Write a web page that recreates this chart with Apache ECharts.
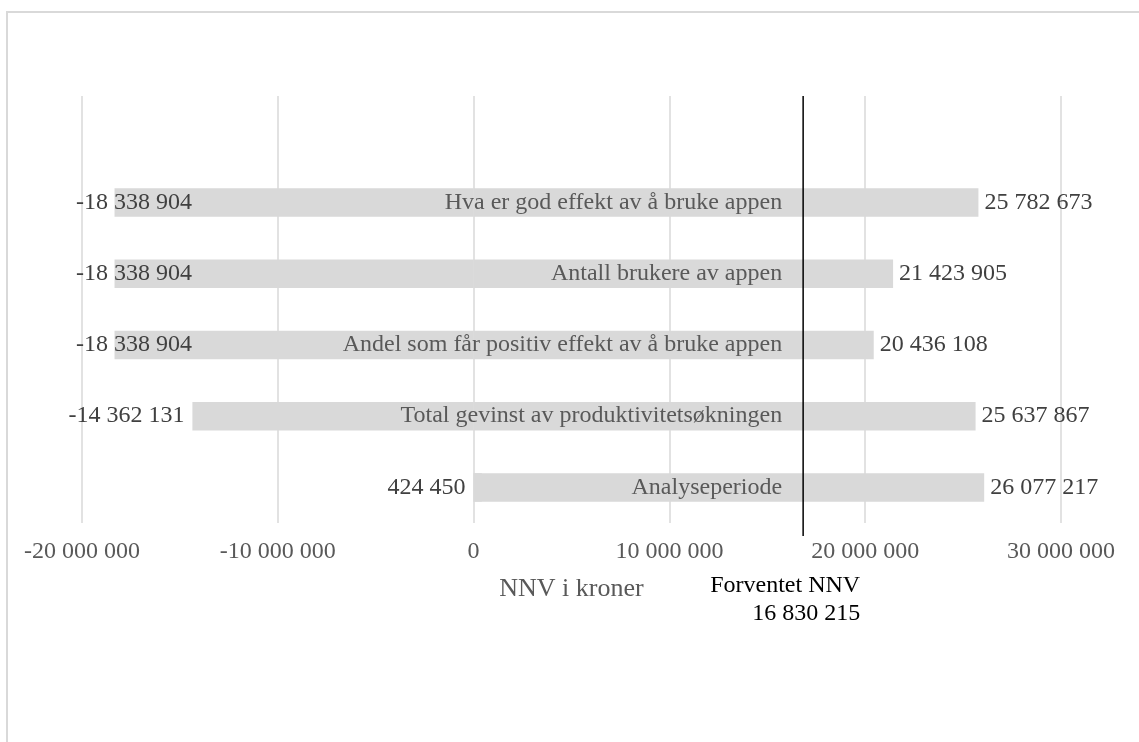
<!DOCTYPE html>
<html>
<head>
<meta charset="utf-8">
<script src="https://cdn.jsdelivr.net/npm/echarts@6/dist/echarts.min.js"></script>
<style>
  html, body { margin: 0; padding: 0; background: #ffffff; }
  #chart { width: 1139px; height: 742px; }
</style>
</head>
<body>
<div id="chart"></div>
<script>
// Sensitivity (tornado) chart: NNV range per uncertain input
const categories = [
  'Hva er god effekt av å bruke appen',
  'Antall brukere av appen',
  'Andel som får positiv effekt av å bruke appen',
  'Total gevinst av produktivitetsøkningen',
  'Analyseperiode'
];
const lowValues = [-18338904, -18338904, -18338904, -14362131, 424450];
const highValues = [25782673, 21423905, 20436108, 25637867, 26077217];
const expectedNNV = 16830215;
const expectedLabel = 'Forventet NNV';
const axisTitle = 'NNV i kroner';
const xMin = -20000000;
const xMax = 30000000;
const xStep = 10000000;

const FONT = '"Liberation Serif", "Times New Roman", serif';
const GREY = '#595959';
const DARK = '#404040';
const BAR = '#d9d9d9';

function fmt(v) {
  const s = Math.abs(Math.round(v)).toString().replace(/\B(?=(\d{3})+(?!\d))/g, ' ');
  return (v < 0 ? '-' : '') + s;
}

const measureCtx = document.createElement('canvas').getContext('2d');
function textWidth(text, size) {
  measureCtx.font = size + 'px "Liberation Serif"';
  return measureCtx.measureText(text).width;
}

const chart = echarts.init(document.getElementById('chart'), null, { renderer: 'canvas' });

// Two overlapping bars per row, both from zero: one to the low case, one to the high case
function renderRange(params, api) {
  const i = params.dataIndex;
  const idx = api.value(0);
  const lo = api.value(1);
  const hi = api.value(2);
  const pz = api.coord([0, idx]);
  const pl = api.coord([lo, idx]);
  const ph = api.coord([hi, idx]);
  const pe = api.coord([expectedNNV, idx]);
  const gridLeft = api.coord([xMin, idx])[0];
  const h = api.size([0, 1])[1] * 0.4;
  const cy = pz[1];

  // low label sits left of the bar; pulled back inside the chart if it would fall off the edge
  const loText = fmt(lo);
  let loX = Math.min(pl[0], pz[0]) - 8;
  let loAlign = 'right';
  if (loX - textWidth(loText, 24) < 20) {
    loX = gridLeft - 6;
    loAlign = 'left';
  }

  const rect = (a, b) => ({
    type: 'rect',
    shape: { x: Math.min(a, b), y: cy - h / 2, width: Math.abs(b - a), height: h },
    style: { fill: BAR }
  });

  return {
    type: 'group',
    children: [
      rect(pz[0], pl[0]),
      rect(pz[0], ph[0]),
      {
        type: 'text',
        style: {
          text: categories[i], x: pe[0] - 21, y: cy,
          align: 'right', verticalAlign: 'middle',
          fontSize: 24, fontFamily: FONT, fill: GREY
        }
      },
      {
        type: 'text',
        style: {
          text: loText, x: loX, y: cy,
          align: loAlign, verticalAlign: 'middle',
          fontSize: 24, fontFamily: FONT, fill: DARK
        }
      },
      {
        type: 'text',
        style: {
          text: fmt(hi), x: Math.max(ph[0], pz[0]) + 6, y: cy,
          align: 'left', verticalAlign: 'middle',
          fontSize: 24, fontFamily: FONT, fill: DARK
        }
      }
    ]
  };
}

function renderExpected(params, api) {
  const v = api.value(0);
  const top = api.coord([v, 1]);
  const bottom = api.coord([v, 0]);
  return {
    type: 'group',
    children: [
      {
        type: 'line',
        shape: { x1: top[0], y1: top[1], x2: bottom[0], y2: bottom[1] },
        style: { stroke: '#000000', lineWidth: 1.5 }
      },
      {
        type: 'text',
        style: {
          text: expectedLabel + '\n' + fmt(v),
          x: bottom[0] + 57, y: bottom[1] + 36,
          align: 'right', verticalAlign: 'top',
          fontSize: 24, lineHeight: 28, fontFamily: FONT, fill: '#000000'
        }
      }
    ]
  };
}

const hiddenX = (grid) => ({
  gridIndex: grid, type: 'value', min: xMin, max: xMax, interval: xStep, show: false
});

const option = {
  animation: false,
  backgroundColor: '#ffffff',
  graphic: [{
    type: 'rect', silent: true, z: -10,
    shape: { x: 7, y: 12, width: 1200, height: 800 },
    style: { fill: 'none', stroke: '#d9d9d9', lineWidth: 2 }
  }],
  grid: [
    { left: 82, right: 78, top: 96, bottom: 219, outerBoundsMode: 'none' },
    { left: 82, right: 78, top: 167, bottom: 219, outerBoundsMode: 'none' },
    { left: 82, right: 78, top: 96, bottom: 206, outerBoundsMode: 'none' }
  ],
  xAxis: [
    {
      gridIndex: 0, type: 'value', min: xMin, max: xMax, interval: xStep,
      axisLine: { show: false },
      axisTick: { show: false },
      splitLine: { show: true, lineStyle: { color: '#d9d9d9', width: 1.5 } },
      axisLabel: {
        formatter: fmt, color: GREY, fontSize: 24, fontFamily: FONT, margin: 17
      },
      name: axisTitle, nameLocation: 'middle', nameGap: 53,
      nameTextStyle: { color: GREY, fontSize: 26, fontFamily: FONT }
    },
    hiddenX(1),
    hiddenX(2)
  ],
  yAxis: [
    { gridIndex: 0, type: 'value', min: 0, max: 1, show: false },
    { gridIndex: 1, type: 'category', data: categories, inverse: true, show: false },
    { gridIndex: 2, type: 'value', min: 0, max: 1, show: false }
  ],
  series: [
    {
      type: 'custom', xAxisIndex: 1, yAxisIndex: 1, z: 2,
      encode: { x: [1, 2], y: 0 },
      data: categories.map((c, i) => [i, lowValues[i], highValues[i]]),
      renderItem: renderRange
    },
    {
      type: 'custom', xAxisIndex: 2, yAxisIndex: 2, z: 5,
      encode: { x: 0 },
      data: [[expectedNNV]],
      renderItem: renderExpected
    }
  ]
};

chart.setOption(option);
</script>
</body>
</html>
